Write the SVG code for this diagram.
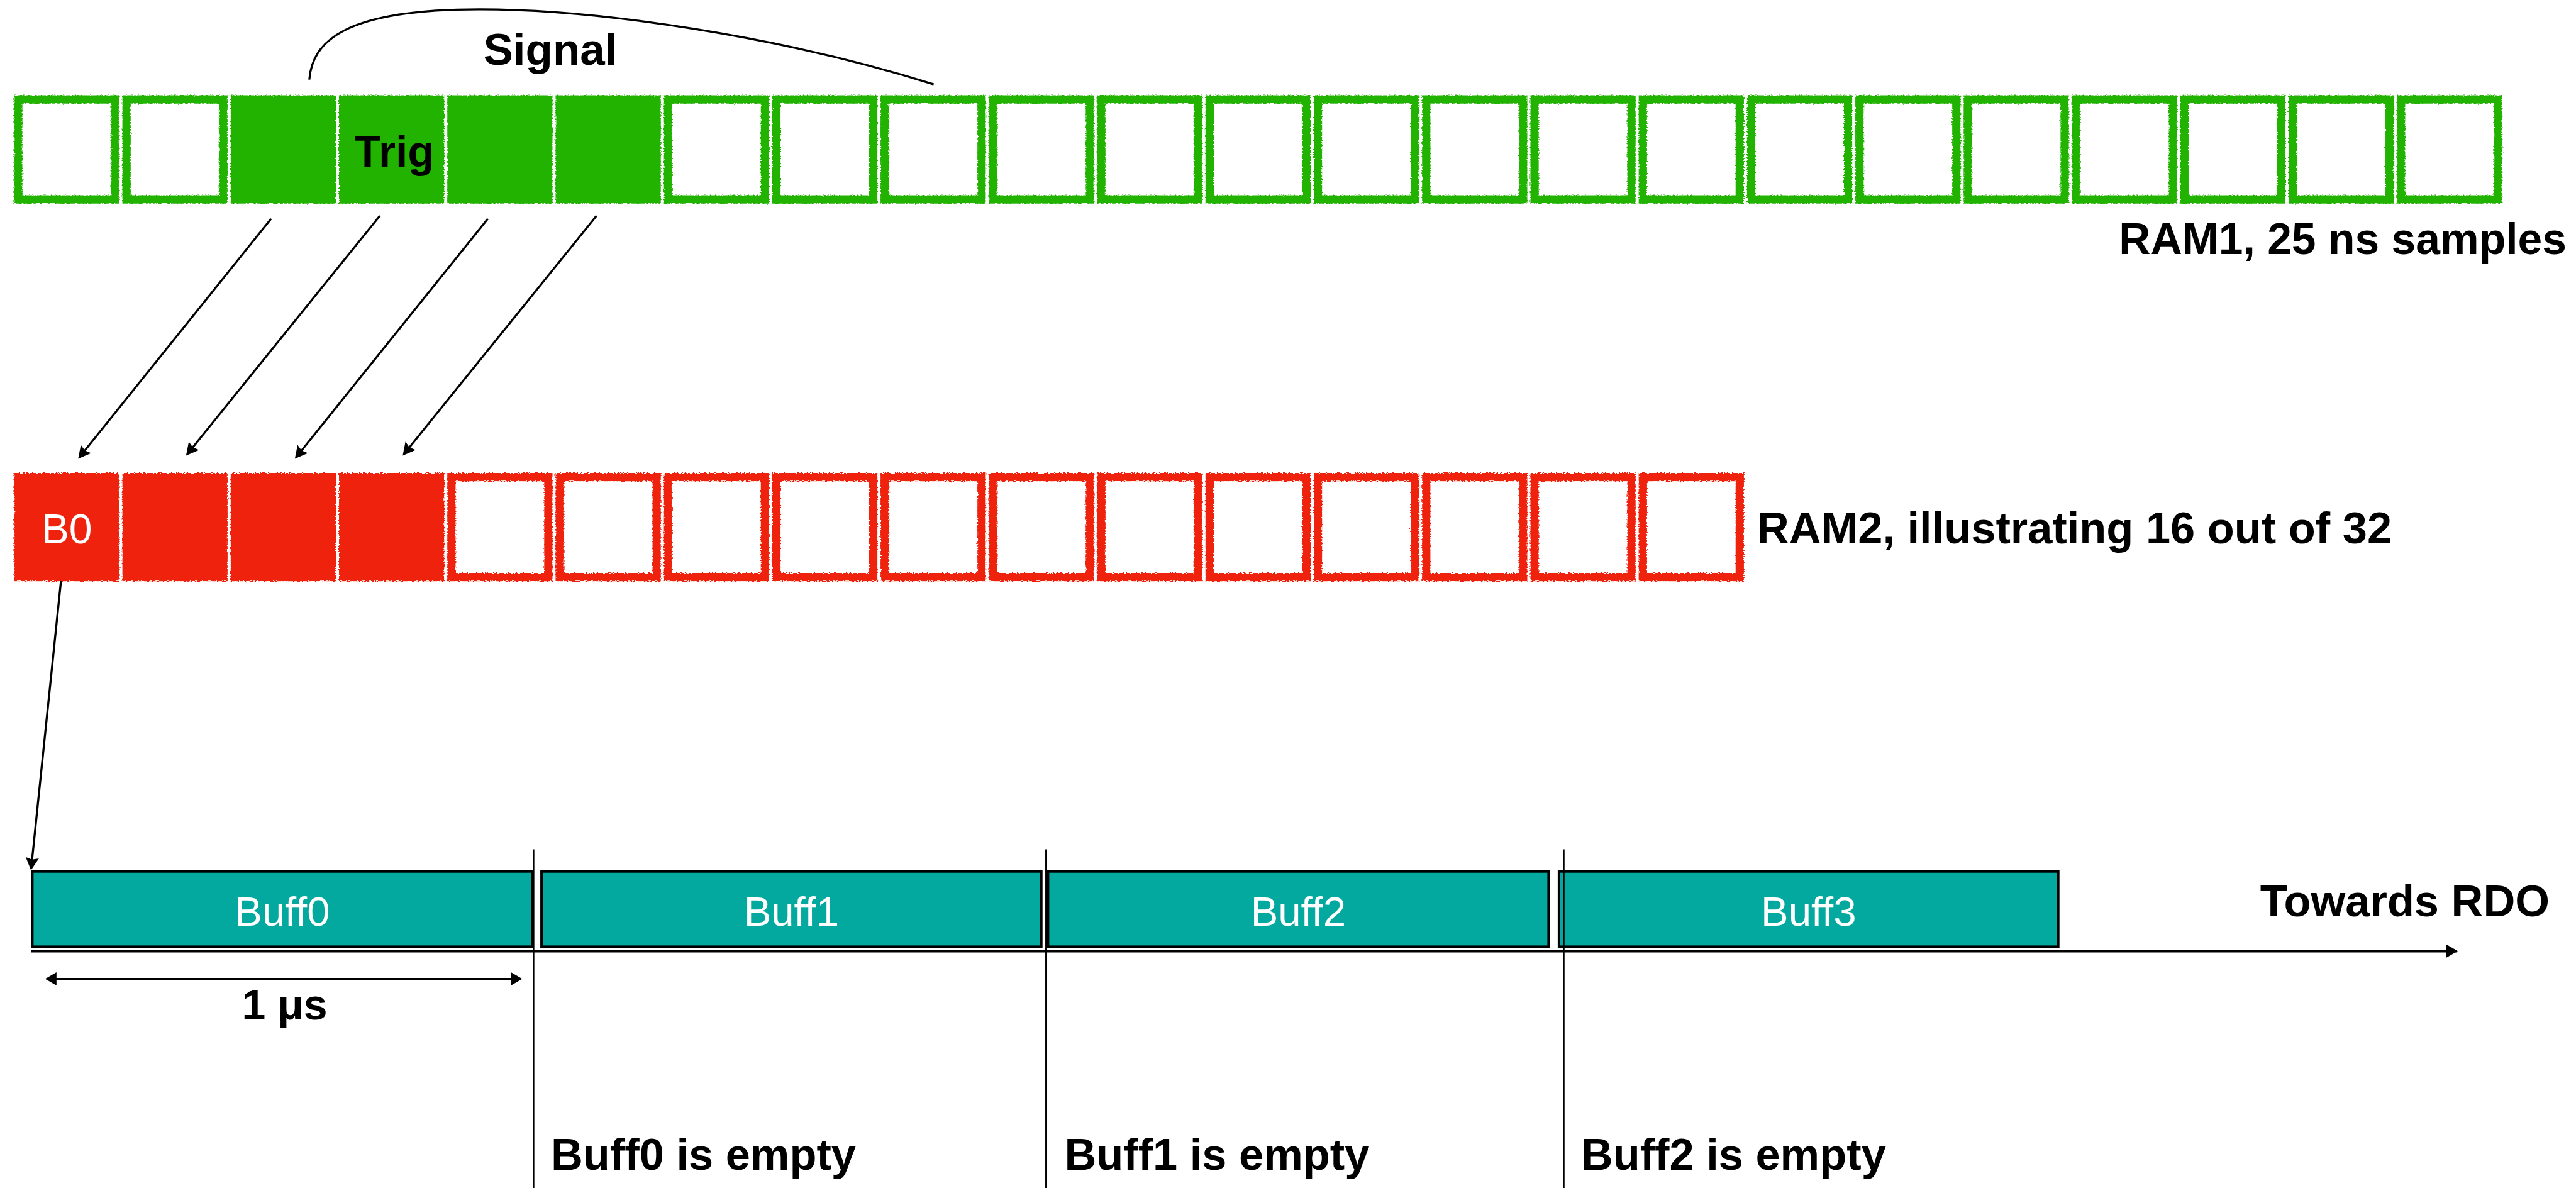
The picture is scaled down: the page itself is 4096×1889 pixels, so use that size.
<svg xmlns="http://www.w3.org/2000/svg" xmlns:xlink="http://www.w3.org/1999/xlink" width="4096" height="1889" viewBox="0 0 4096 1889">
<style>
.bold{font-family:"Liberation Sans",Arial,Helvetica,sans-serif;font-weight:bold;font-size:70.4px;fill:#000}
.reg{font-family:"Liberation Sans",Arial,Helvetica,sans-serif;font-weight:normal;fill:#fff}
.ge{fill:none;stroke:#20B200;stroke-width:13.2}
.gf{fill:#20B200}
.re{fill:none;stroke:#EE2211;stroke-width:13.2}
.rf{fill:#EE2211}
.buff{fill:#03A89E;stroke:#000;stroke-width:4.1}
.conn{fill:none;stroke:#000;stroke-width:3.3}
.thin{fill:none;stroke:#000;stroke-width:2.5}
</style>
<defs>
<filter id="rough" x="-2%" y="-10%" width="104%" height="120%">
<feTurbulence type="fractalNoise" baseFrequency="0.35 0.9" numOctaves="2" seed="4" result="n"/>
<feDisplacementMap in="SourceGraphic" in2="n" scale="5" xChannelSelector="R" yChannelSelector="G"/>
</filter>
<rect id="gE" x="6.6" y="6.6" width="154.06" height="159" class="ge"/>
<rect id="gF" x="0" y="0" width="167.26" height="172.2" class="gf"/>
<rect id="rE" x="6.6" y="6.6" width="154.06" height="159" class="re"/>
<rect id="rF" x="0" y="0" width="167.26" height="172.2" class="rf"/>
<marker id="ah" markerUnits="userSpaceOnUse" viewBox="-21 -12 32 24" refX="-10" refY="0" markerWidth="32" markerHeight="24" orient="auto">
<path d="M0,0 L-20,-10.5 L-17,0 L-20,10.5 Z" fill="#000"/>
</marker>
<marker id="tri" markerUnits="userSpaceOnUse" viewBox="-19 -11 30 22" refX="-2" refY="0" markerWidth="30" markerHeight="22" orient="auto-start-reverse">
<path d="M0,0 L-18,-10.5 L-18,10.5 Z" fill="#000"/>
</marker>
</defs>
<rect width="4096" height="1889" fill="#fff"/>

<g id="signal">
<path d="M491.8,126.7 C496.8,66.2 546.5,14.9 762.6,14.9 C952.2,14.9 1242,58 1484.6,134.1" fill="none" stroke="#000" stroke-width="3.3"/>
<text class="bold" x="875" y="102.7" text-anchor="middle" style="font-size:71px">Signal</text>
</g>

<g id="ram1" filter="url(#rough)">
<g id="ram1-c00"><use href="#gE" x="22.36" y="151.5"/></g>
<g id="ram1-c01"><use href="#gE" x="194.58" y="151.5"/></g>
<g id="ram1-c02"><use href="#gF" x="366.80" y="151.5"/></g>
<g id="ram1-c03"><use href="#gF" x="539.02" y="151.5"/></g>
<g id="ram1-c04"><use href="#gF" x="711.24" y="151.5"/></g>
<g id="ram1-c05"><use href="#gF" x="883.46" y="151.5"/></g>
<g id="ram1-c06"><use href="#gE" x="1055.68" y="151.5"/></g>
<g id="ram1-c07"><use href="#gE" x="1227.90" y="151.5"/></g>
<g id="ram1-c08"><use href="#gE" x="1400.12" y="151.5"/></g>
<g id="ram1-c09"><use href="#gE" x="1572.34" y="151.5"/></g>
<g id="ram1-c10"><use href="#gE" x="1744.56" y="151.5"/></g>
<g id="ram1-c11"><use href="#gE" x="1916.78" y="151.5"/></g>
<g id="ram1-c12"><use href="#gE" x="2089.00" y="151.5"/></g>
<g id="ram1-c13"><use href="#gE" x="2261.22" y="151.5"/></g>
<g id="ram1-c14"><use href="#gE" x="2433.44" y="151.5"/></g>
<g id="ram1-c15"><use href="#gE" x="2605.66" y="151.5"/></g>
<g id="ram1-c16"><use href="#gE" x="2777.88" y="151.5"/></g>
<g id="ram1-c17"><use href="#gE" x="2950.10" y="151.5"/></g>
<g id="ram1-c18"><use href="#gE" x="3122.32" y="151.5"/></g>
<g id="ram1-c19"><use href="#gE" x="3294.54" y="151.5"/></g>
<g id="ram1-c20"><use href="#gE" x="3466.76" y="151.5"/></g>
<g id="ram1-c21"><use href="#gE" x="3638.98" y="151.5"/></g>
<g id="ram1-c22"><use href="#gE" x="3811.20" y="151.5"/></g>
</g>
<text id="trig-label" class="bold" x="627" y="265" text-anchor="middle" style="font-size:69.5px">Trig</text>
<text id="ram1-label" class="bold" x="4081" y="404" text-anchor="end" style="font-size:69.6px">RAM1, 25 ns samples</text>

<g id="ram2" filter="url(#rough)">
<g id="ram2-c00"><use href="#rF" x="22.36" y="752"/></g>
<g id="ram2-c01"><use href="#rF" x="194.58" y="752"/></g>
<g id="ram2-c02"><use href="#rF" x="366.80" y="752"/></g>
<g id="ram2-c03"><use href="#rF" x="539.02" y="752"/></g>
<g id="ram2-c04"><use href="#rE" x="711.24" y="752"/></g>
<g id="ram2-c05"><use href="#rE" x="883.46" y="752"/></g>
<g id="ram2-c06"><use href="#rE" x="1055.68" y="752"/></g>
<g id="ram2-c07"><use href="#rE" x="1227.90" y="752"/></g>
<g id="ram2-c08"><use href="#rE" x="1400.12" y="752"/></g>
<g id="ram2-c09"><use href="#rE" x="1572.34" y="752"/></g>
<g id="ram2-c10"><use href="#rE" x="1744.56" y="752"/></g>
<g id="ram2-c11"><use href="#rE" x="1916.78" y="752"/></g>
<g id="ram2-c12"><use href="#rE" x="2089.00" y="752"/></g>
<g id="ram2-c13"><use href="#rE" x="2261.22" y="752"/></g>
<g id="ram2-c14"><use href="#rE" x="2433.44" y="752"/></g>
<g id="ram2-c15"><use href="#rE" x="2605.66" y="752"/></g>
</g>
<text id="b0-label" class="reg" x="106" y="863.6" text-anchor="middle" style="font-size:66px">B0</text>
<text id="ram2-label" class="bold" x="2794" y="864.4">RAM2, illustrating 16 out of 32</text>

<g id="buffers">
<g id="buff0"><rect class="buff" x="51.35" y="1385.65" width="795" height="119.8"/><text class="reg" x="448.9" y="1472.2" text-anchor="middle" style="font-size:65.4px">Buff0</text></g>
<g id="buff1"><rect class="buff" x="861.15" y="1385.65" width="794.5" height="119.8"/><text class="reg" x="1258.4" y="1472.2" text-anchor="middle" style="font-size:65.4px">Buff1</text></g>
<g id="buff2"><rect class="buff" x="1666.35" y="1385.65" width="796.1" height="119.8"/><text class="reg" x="2064.4" y="1472.2" text-anchor="middle" style="font-size:65.4px">Buff2</text></g>
<g id="buff3"><rect class="buff" x="2478.95" y="1385.65" width="793.7" height="119.8"/><text class="reg" x="2875.8" y="1472.2" text-anchor="middle" style="font-size:65.4px">Buff3</text></g>
</g>

<g id="connectors">
<line class="conn" x1="431.1" y1="347.8" x2="130.5" y2="721.8" marker-end="url(#ah)"/>
<line class="conn" x1="604.1" y1="343" x2="302.1" y2="716.7" marker-end="url(#ah)"/>
<line class="conn" x1="775.7" y1="347.8" x2="475.1" y2="721.8" marker-end="url(#ah)"/>
<line class="conn" x1="948.6" y1="343" x2="646.6" y2="716.7" marker-end="url(#ah)"/>
<line class="conn" x1="96.9" y1="924" x2="50.3" y2="1373.8" marker-end="url(#ah)"/>
<line x1="49.3" y1="1512.2" x2="3906" y2="1512.2" stroke="#000" stroke-width="4.5" marker-end="url(#tri)"/>
<line class="conn" x1="73.8" y1="1556.6" x2="828.5" y2="1556.6" marker-start="url(#tri)" marker-end="url(#tri)"/>
<line class="thin" x1="848.4" y1="1350.5" x2="848.4" y2="1889"/>
<line class="thin" x1="1663.3" y1="1350.5" x2="1663.3" y2="1889"/>
<line class="thin" x1="2486.5" y1="1350.5" x2="2486.5" y2="1889"/>
</g>

<text id="dim-label" class="bold" x="452.5" y="1621.2" text-anchor="middle" style="font-size:68px">1 μs</text>
<text id="rdo-label" class="bold" x="4054" y="1456.5" text-anchor="end">Towards RDO</text>
<text id="empty0" class="bold" x="876" y="1860">Buff0 is empty</text>
<text id="empty1" class="bold" x="1692.4" y="1860">Buff1 is empty</text>
<text id="empty2" class="bold" x="2513.8" y="1860">Buff2 is empty</text>
</svg>
